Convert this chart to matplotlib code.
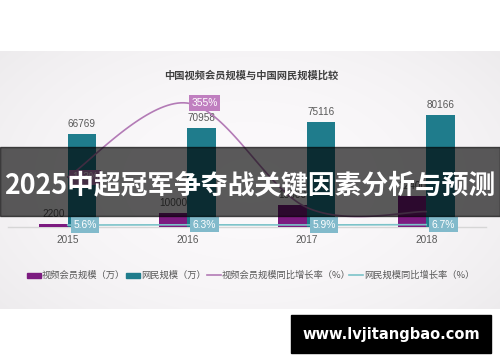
import numpy as np
import matplotlib
matplotlib.use("Agg")
import matplotlib.pyplot as plt
from matplotlib.patches import Rectangle
from matplotlib.lines import Line2D

plt.rcParams['font.family'] = ['Noto Sans CJK SC', 'DejaVu Sans']

# ---- data ----
years = ["2015", "2016", "2017", "2018"]
video_members = [2200, 10000, 15600, 22400]          # 视频会员规模（万）
netizens = [66769, 70958, 75116, 80166]              # 网民规模（万）
video_growth = [143, 355, 56, 44]                    # 视频会员规模同比增长率（%）
video_growth_labelled = [True, True, False, False]
netizen_growth = [5.6, 6.3, 5.9, 6.7]                # 网民规模同比增长率（%）

chart_title = "中国视频会员规模与中国网民规模比较"
legend_labels = ["视频会员规模（万）", "网民规模（万）",
                 "视频会员规模同比增长率（%）", "网民规模同比增长率（%）"]
banner_text = "2025中超冠军争夺战关键因素分析与预测"
site_text = "www.lvjitangbao.com"

# ---- colours ----
C_PURPLE = "#7c1b80"
C_TEAL = "#1f7c8c"
C_PLINE = "#b37bb6"
C_PBOX = "#c07fc0"
C_TLINE = "#7cc3c9"
C_TBOX = "#82bacb"
C_TEXT = "#595959"

W, H = 500, 362
fig = plt.figure(figsize=(W / 100, H / 100), dpi=100)


def fx(x):
    return x / W


def fy(y):
    return 1 - y / H


# background panel with a soft vignette
bg = fig.add_axes([0, 0, 1, 1], zorder=-10)
img = np.ones((H, W, 3))
yy, xx = np.mgrid[0:H, 0:W]
top, bot = 51, 309
cy, cxp = (top + bot) / 2, W / 2
d = np.sqrt(((xx - cxp) / (W * 0.62)) ** 2 + ((yy - cy) / ((bot - top) * 0.75)) ** 2)
shade = 0.985 - 0.05 * np.clip(d, 0, 1.2) ** 2
panel = np.stack([shade, shade * 0.992, shade], axis=-1)
mask = (yy >= top) & (yy < bot)
img[mask] = panel[mask]
bg.imshow(img, extent=[0, W, H, 0], aspect="auto", interpolation="bilinear")
bg.set_xlim(0, W)
bg.set_ylim(H, 0)
bg.axis("off")

# main plotting axes: x from px 8 to 486, baseline at px 227, top at px 87
ax = fig.add_axes([fx(8), fy(227), fx(486) - fx(8), fy(87) - fy(227)], zorder=1)
ax.patch.set_alpha(0)
x = np.arange(len(years))
bw = 0.238
ax.set_xlim(-0.5, 3.5)
ax.set_ylim(0, 100000)
ax.bar(x - bw / 2, video_members, bw, color=C_PURPLE, zorder=2)
ax.bar(x + bw / 2, netizens, bw, color=C_TEAL, zorder=2)
ax.axhline(0, color="#d6d6d6", lw=1.0, zorder=1, clip_on=False)
for s in ax.spines.values():
    s.set_visible(False)
ax.set_yticks([])
ax.set_xticks(x)
ax.set_xticklabels(years, family="Liberation Sans", fontsize=7.2, color=C_TEXT)
ax.tick_params(axis="x", length=0, pad=6)

for xi, v in zip(x, video_members):
    ax.annotate(str(v), (xi - bw / 2, v), xytext=(0, 7), textcoords="offset points",
                ha="center", va="center", family="Liberation Sans", fontsize=7.2,
                color=C_TEXT, zorder=3)
for xi, v in zip(x, netizens):
    ax.annotate(str(v), (xi + bw / 2, v), xytext=(0, 7), textcoords="offset points",
                ha="center", va="center", family="Liberation Sans", fontsize=7.2,
                color=C_TEXT, zorder=3)

ax2 = ax.twinx()
ax2.set_ylim(0, 401)
ax2.set_yticks([])
for s in ax2.spines.values():
    s.set_visible(False)


def smooth(xs, ys, n=40):
    """Bezier smoothing through every point (spreadsheet-style smoothed line)."""
    xs = np.asarray(xs, float)
    ys = np.asarray(ys, float)
    P = np.column_stack([xs, ys])
    Pe = np.vstack([P[0], P, P[-1]])
    out = []
    for i in range(len(P) - 1):
        p0, p3 = Pe[i + 1], Pe[i + 2]
        c1 = p0 + (Pe[i + 2] - Pe[i]) / 6
        c2 = p3 - (Pe[i + 3] - Pe[i + 1]) / 6
        t = np.linspace(0, 1, n)[:, None]
        seg = ((1 - t) ** 3) * p0 + 3 * ((1 - t) ** 2) * t * c1 + 3 * (1 - t) * t ** 2 * c2 + t ** 3 * p3
        out.append(seg if i == 0 else seg[1:])
    out = np.vstack(out)
    return out[:, 0], out[:, 1]


sx, sy = smooth(x, video_growth)
ax2.plot(sx, sy, color=C_PLINE, lw=1.2, zorder=4)
ax2.plot(x, netizen_growth, color=C_TLINE, lw=1.2, zorder=4)

for xi, v, show in zip(x, video_growth, video_growth_labelled):
    if not show:
        continue
    ax2.annotate(f"{v}%", (xi, v), xytext=(12.5, 0), textcoords="offset points",
                 ha="center", va="center", family="Liberation Sans", fontsize=7.4,
                 color="white", zorder=5,
                 bbox=dict(boxstyle="square,pad=0.25", fc=C_PBOX, ec="none"))
for xi, v in zip(x, netizen_growth):
    ax2.annotate(f"{v}%", (xi, v), xytext=(12.5, 0), textcoords="offset points",
                 ha="center", va="center", family="Liberation Sans", fontsize=7.4,
                 color="white", zorder=5,
                 bbox=dict(boxstyle="square,pad=0.25", fc=C_TBOX, ec="none"))

# chart title
fig.text(fx(251.5), fy(76), chart_title, ha="center", va="center",
         fontsize=7.4, fontweight="bold", color="#404040")

# legend drawn item by item
ly = 275
fs_leg = 6.7
fig.add_artist(Rectangle((fx(27), fy(ly + 2.5)), fx(14), fy(0) - fy(5), color=C_PURPLE,
                         transform=fig.transFigure))
fig.text(fx(42), fy(ly), legend_labels[0], ha="left", va="center", fontsize=fs_leg, color=C_TEXT)
fig.add_artist(Rectangle((fx(126), fy(ly + 2.5)), fx(14), fy(0) - fy(5), color=C_TEAL,
                         transform=fig.transFigure))
fig.text(fx(141), fy(ly), legend_labels[1], ha="left", va="center", fontsize=fs_leg, color=C_TEXT)
fig.add_artist(Line2D([fx(207), fx(221)], [fy(ly), fy(ly)], color=C_PLINE, lw=1.2,
                      transform=fig.transFigure))
fig.text(fx(222), fy(ly), legend_labels[2], ha="left", va="center", fontsize=fs_leg, color=C_TEXT)
fig.add_artist(Line2D([fx(349), fx(363)], [fy(ly), fy(ly)], color=C_TLINE, lw=1.2,
                      transform=fig.transFigure))
fig.text(fx(364), fy(ly), legend_labels[3], ha="left", va="center", fontsize=fs_leg, color=C_TEXT)

# dark banner across the chart
fig.add_artist(Rectangle((0, fy(216)), 1, fy(147) - fy(216), color="black", alpha=0.64,
                         transform=fig.transFigure, zorder=10))
fig.text(fx(250), fy(185), banner_text, ha="center", va="center", fontsize=19.3,
         fontweight="bold", color="white", zorder=11)

# site tag
fig.add_artist(Rectangle((fx(291), fy(353)), fx(200), fy(315) - fy(353), color="black",
                         transform=fig.transFigure, zorder=10))
fig.text(fx(391), fy(335), site_text, ha="center", va="center", fontsize=10.5,
         fontweight="bold", family="DejaVu Sans", color="white", zorder=11)

fig.savefig("out.png", dpi=100)
